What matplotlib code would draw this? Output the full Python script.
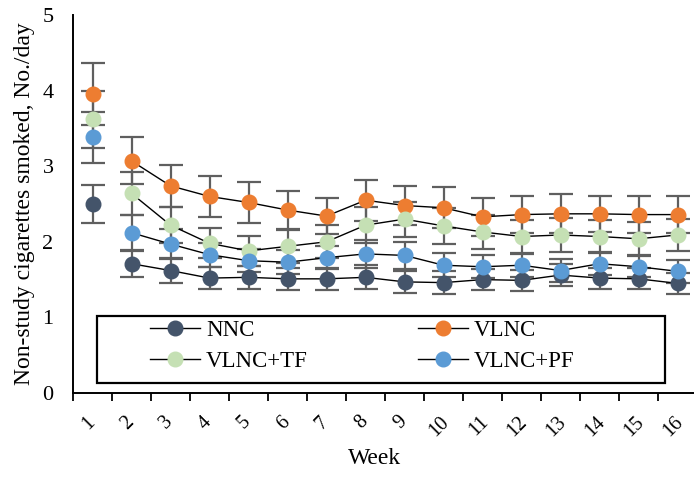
import matplotlib
matplotlib.use("Agg")
import matplotlib.pyplot as plt
import matplotlib.transforms as mtransforms
from matplotlib.lines import Line2D
from matplotlib.patches import Rectangle

plt.rcParams['font.family'] = ['Liberation Serif', 'DejaVu Serif']

weeks = list(range(1, 17))
week_labels = [str(w) for w in weeks]
series_names = ["NNC", "VLNC", "VLNC+TF", "VLNC+PF"]
colors = ["#44546A", "#ED7D31", "#C5E0B4", "#5B9BD5"]

nnc = [2.50, 1.71, 1.62, 1.52, 1.53, 1.51, 1.51, 1.53, 1.47, 1.46, 1.50, 1.49, 1.56, 1.52, 1.51, 1.45]
vlnc = [3.96, 3.07, 2.74, 2.60, 2.52, 2.42, 2.34, 2.55, 2.48, 2.45, 2.33, 2.36, 2.37, 2.37, 2.36, 2.36]
vlnc_tf = [3.62, 2.64, 2.22, 1.98, 1.88, 1.94, 2.00, 2.22, 2.30, 2.21, 2.13, 2.07, 2.09, 2.07, 2.04, 2.09]
vlnc_pf = [3.38, 2.12, 1.97, 1.83, 1.75, 1.73, 1.79, 1.84, 1.82, 1.69, 1.67, 1.69, 1.62, 1.71, 1.67, 1.61]

nnc_err = [0.25, 0.18, 0.17, 0.15, 0.15, 0.15, 0.15, 0.16, 0.15, 0.15, 0.14, 0.14, 0.15, 0.14, 0.14, 0.14]
vlnc_err = [0.41, 0.31, 0.28, 0.27, 0.27, 0.25, 0.24, 0.27, 0.26, 0.27, 0.25, 0.25, 0.26, 0.24, 0.25, 0.25]
vlnc_tf_err = [0.38, 0.28, 0.24, 0.20, 0.20, 0.22, 0.22, 0.24, 0.23, 0.24, 0.22, 0.22, 0.23, 0.22, 0.22, 0.21]
vlnc_pf_err = [0.34, 0.24, 0.20, 0.16, 0.15, 0.16, 0.15, 0.18, 0.18, 0.16, 0.15, 0.15, 0.15, 0.15, 0.14, 0.15]

values = [nnc, vlnc, vlnc_tf, vlnc_pf]
errors = [nnc_err, vlnc_err, vlnc_tf_err, vlnc_pf_err]

W, H = 694, 478
fig = plt.figure(figsize=(W / 100, H / 100), dpi=100)
ax = fig.add_axes([73 / W, 1 - 393 / H, 624 / W, (393 - 15) / H])

for v, e in zip(values, errors):
    ax.errorbar(weeks, v, yerr=e, fmt='none', ecolor='#5f5f5f', elinewidth=1.6,
                capsize=8.5, capthick=1.6, zorder=2)
for v, c in zip(values, colors):
    ax.plot(weeks[1:], v[1:], color='black', lw=1.0, zorder=3)
for v, c in zip(values, colors):
    ax.plot(weeks, v, linestyle='none', marker='o', markersize=10.5,
            markerfacecolor=c, markeredgecolor=c, zorder=4)

ax.set_xlim(0.5, 16.5)
ax.set_ylim(0, 5)
ax.set_yticks([0, 1, 2, 3, 4, 5])
ax.tick_params(axis='y', length=0, labelsize=16, pad=14)
ax.set_xticks(weeks)
ax.set_xticklabels(week_labels, rotation=45, fontsize=14.5, ha='center', va='top')
ax.tick_params(axis='x', which='major', length=0, pad=14)
offset = mtransforms.ScaledTranslation(-4 / 100, 0, fig.dpi_scale_trans)
for lab in ax.get_xticklabels():
    lab.set_transform(lab.get_transform() + offset)
ax.set_xticks([w + 0.5 for w in [0] + weeks], minor=True)
ax.tick_params(axis='x', which='minor', length=6, width=1.3, direction='out')
for s in ['top', 'right']:
    ax.spines[s].set_visible(False)
for s in ['left', 'bottom']:
    ax.spines[s].set_linewidth(1.4)
ax.set_ylabel("Non-study cigarettes smoked, No./day", fontsize=17, labelpad=5)
fig.text(375 / W, 1 - 459 / H, "Week", fontsize=17, ha='center', va='center')

fig.patches.append(Rectangle((97 / W, 1 - 383 / H), (665 - 97) / W, (383 - 316) / H,
                             transform=fig.transFigure, fill=False, edgecolor='black',
                             linewidth=1.6, zorder=5))

handles = [Line2D([], [], color='black', lw=1.0, marker='o', markersize=10.5,
                  markerfacecolor=c, markeredgecolor=c) for c in colors]
order = [0, 2, 1, 3]
leg = fig.legend([handles[i] for i in order], [series_names[i] for i in order],
                 ncol=2, frameon=False, fontsize=16.5, loc='upper left',
                 bbox_to_anchor=(150 / W, 1 - 320 / H), borderpad=0,
                 handlelength=2.2, handletextpad=0.25, columnspacing=4.8,
                 labelspacing=0.45, borderaxespad=0)

fig.savefig("out.png", dpi=100)
